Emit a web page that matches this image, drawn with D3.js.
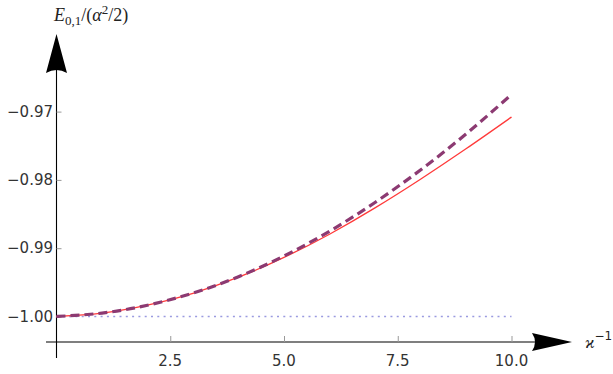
<!DOCTYPE html>
<html><head><meta charset="utf-8">
<script src="https://cdn.jsdelivr.net/npm/d3@7"></script>
<style>body{margin:0;background:#fff}svg{display:block}</style>
</head><body>
<svg id="c" width="613" height="374"></svg>
<script>
// data
const xs = [0,1,2,3,4,5,6,7,8,9,10];
const solidVals = [-1.0000,-0.9995,-0.99835,-0.9966,-0.99425,-0.99135,-0.98795,-0.9841,-0.9799,-0.97545,-0.9708];
const dashedVals = [-1.0000,-0.9995,-0.998345,-0.99657,-0.99417,-0.99114,-0.98752,-0.98331,-0.97855,-0.97328,-0.9675];
const refVals = [-1.0,-1.0];
const refXs = [0,10];
const xTicks = [2.5,5.0,7.5,10.0];
const yTicks = [-1.00,-0.99,-0.98,-0.97];

const svg = d3.select("#c");
const x = d3.scaleLinear().domain([0,10]).range([56.5,511.5]);
const y = d3.scaleLinear().domain([-1.00,-0.97]).range([316.5,111.6]);
const X0 = x(0), Y0 = 342;

// axes lines
svg.append("line").attr("x1",X0).attr("x2",X0).attr("y1",70).attr("y2",358).attr("stroke","#000").attr("stroke-width",1.1);
svg.append("line").attr("x1",46).attr("x2",535).attr("y1",Y0).attr("y2",Y0).attr("stroke","#000").attr("stroke-width",1.1);
// arrowheads
svg.append("path").attr("d",`M${X0},34 L${X0+10.5},73 Q${X0},67 ${X0-10.5},73 Z`).attr("fill","#000");
svg.append("path").attr("d",`M572,${Y0} L532,${Y0-9} Q538,${Y0} 532,${Y0+9} Z`).attr("fill","#000");

// ticks
const xAxis = d3.axisTop(x).tickValues(xTicks).tickSize(6).tickFormat("");
const gx = svg.append("g").attr("transform",`translate(0,${Y0})`).call(xAxis);
gx.select(".domain").remove();
gx.selectAll("line").attr("stroke","#999");
const yAxis = d3.axisRight(y).tickValues(yTicks).tickSize(5).tickFormat("");
const gy = svg.append("g").attr("transform",`translate(${X0},0)`).call(yAxis);
gy.select(".domain").remove();
gy.selectAll("line").attr("stroke","#999");

const fmt1 = d3.format(".1f"), fmt2 = d3.format(".2f");
svg.selectAll(".xl").data(xTicks).enter().append("text")
  .attr("x",d=>x(d)).attr("y",366).attr("text-anchor","middle")
  .attr("font-family","DejaVu Sans").attr("font-size",15).attr("fill","#333")
  .text(d=>fmt1(d));
svg.selectAll(".yl").data(yTicks).enter().append("text")
  .attr("x",53).attr("y",d=>y(d)+5).attr("text-anchor","end")
  .attr("font-family","DejaVu Sans").attr("font-size",15).attr("fill","#333")
  .text(d=>fmt2(d).replace("-","\u2212"));

// lines
const line = d3.line().x(d=>x(d[0])).y(d=>y(d[1])).curve(d3.curveNatural);
svg.append("path").datum(refXs.map((v,i)=>[v,refVals[i]])).attr("d",d3.line().x(d=>x(d[0])).y(d=>y(d[1])))
  .attr("fill","none").attr("stroke","#9a9ae0").attr("stroke-width",1.6).attr("stroke-dasharray","2,4.3");
svg.append("path").datum(xs.map((v,i)=>[v,solidVals[i]])).attr("d",line)
  .attr("fill","none").attr("stroke","#ff3a3a").attr("stroke-width",1.3);
svg.append("path").datum(xs.map((v,i)=>[v,dashedVals[i]])).attr("d",line)
  .attr("fill","none").attr("stroke","#8c3a72").attr("stroke-width",3.2).attr("stroke-dasharray","9,5");

// axis labels
const t1 = svg.append("text").attr("x",54).attr("y",21).attr("font-family","Liberation Serif").attr("font-size",18).attr("fill","#222");
t1.append("tspan").attr("font-style","italic").text("E");
t1.append("tspan").attr("font-size",13).attr("dy",4).text("0,1");
t1.append("tspan").attr("dy",-4).text("/(");
t1.append("tspan").attr("font-style","italic").text("α");
t1.append("tspan").attr("font-size",13).attr("dy",-7).text("2");
t1.append("tspan").attr("dy",7).text("/2)");
const t2 = svg.append("text").attr("x",585).attr("y",348).attr("font-family","Liberation Serif").attr("font-size",17).attr("fill","#222");
t2.append("tspan").attr("font-style","italic").text("ϰ");
t2.append("tspan").attr("font-size",12).attr("dy",-8).attr("font-family","DejaVu Sans").text("\u22121");
</script>
</body></html>
